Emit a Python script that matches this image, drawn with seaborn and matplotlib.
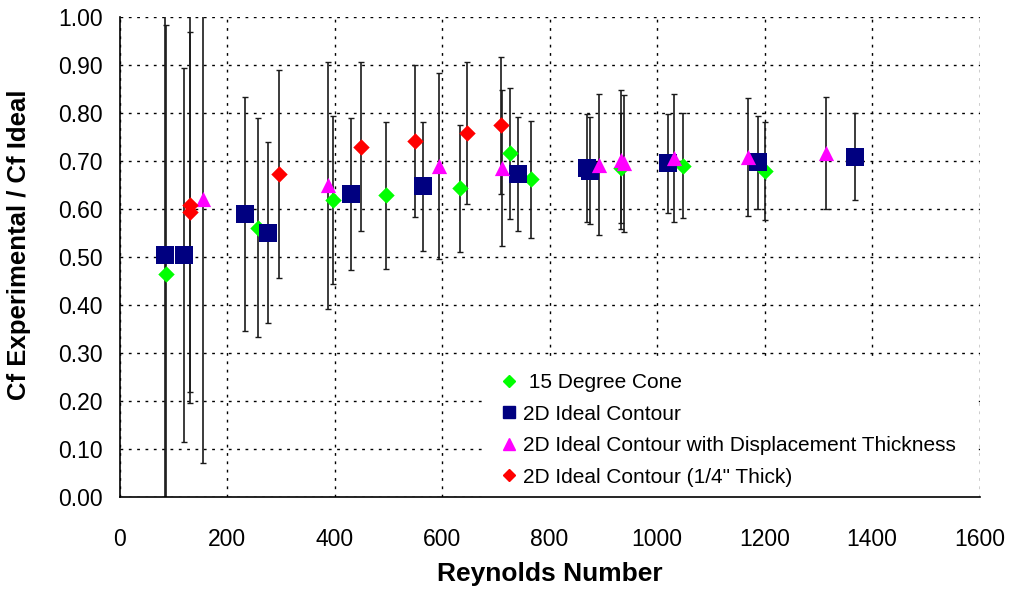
import numpy as np
import pandas as pd
import matplotlib
matplotlib.use("Agg")
import matplotlib.pyplot as plt
import seaborn as sns
from matplotlib.lines import Line2D
from matplotlib.patches import Rectangle

# ---- data ----
cone_x = [87, 257, 397, 496, 634, 726, 766, 933, 1048, 1201]
cone_y = [0.465, 0.561, 0.619, 0.629, 0.643, 0.716, 0.662, 0.685, 0.690, 0.679]
cone_err = [0.518, 0.228, 0.175, 0.153, 0.133, 0.136, 0.122, 0.115, 0.109, 0.102]

ideal_x = [84, 119, 233, 276, 430, 564, 742, 870, 876, 1021, 1188, 1369]
ideal_y = [0.504, 0.504, 0.590, 0.551, 0.631, 0.647, 0.673, 0.685, 0.680, 0.695, 0.697, 0.709]
ideal_err = [0.60, 0.39, 0.244, 0.189, 0.158, 0.135, 0.118, 0.113, 0.112, 0.103, 0.096, 0.091]

disp_x = [156, 388, 594, 712, 892, 932, 938, 1031, 1170, 1315]
disp_y = [0.621, 0.649, 0.690, 0.685, 0.692, 0.703, 0.695, 0.706, 0.709, 0.716]
disp_err = [0.55, 0.257, 0.194, 0.163, 0.147, 0.144, 0.142, 0.133, 0.123, 0.117]

thick_x = [130, 130, 296, 450, 550, 646, 710]
thick_y = [0.608, 0.594, 0.673, 0.730, 0.742, 0.758, 0.774]
thick_err = [0.413, 0.375, 0.217, 0.176, 0.158, 0.148, 0.143]

series_names = ["15 Degree Cone", "2D Ideal Contour",
                "2D Ideal Contour with Displacement Thickness",
                "2D Ideal Contour (1/4\" Thick)"]
x_ticks = [0, 200, 400, 600, 800, 1000, 1200, 1400, 1600]
y_ticks = [0.0, 0.1, 0.2, 0.3, 0.4, 0.5, 0.6, 0.7, 0.8, 0.9, 1.0]

series = [(cone_x, cone_y, cone_err), (ideal_x, ideal_y, ideal_err),
          (disp_x, disp_y, disp_err), (thick_x, thick_y, thick_err)]

rows = []
for name, (xs, ys, es) in zip(series_names, series):
    for x, y, e in zip(xs, ys, es):
        rows.append({"Re": x, "ratio": y, "err": e, "series": name})
df = pd.DataFrame(rows)

sns.set_style("white")
plt.rcParams["font.family"] = ["Liberation Sans", "DejaVu Sans"]
plt.rcParams["text.color"] = "black"
plt.rcParams["axes.labelcolor"] = "black"
plt.rcParams["xtick.color"] = "black"
plt.rcParams["ytick.color"] = "black"

fig = plt.figure(figsize=(10.14, 5.96), dpi=100)
ax = fig.add_axes([0.118, 0.166, 0.848, 0.8055])

# error bars
for name in series_names:
    sub = df[df["series"] == name]
    ax.errorbar(sub["Re"], sub["ratio"], yerr=sub["err"], fmt="none",
                ecolor="#1a1a1a", elinewidth=1.2, capsize=2.2, capthick=1.0,
                zorder=2)

palette = {series_names[0]: "#00FF00", series_names[1]: "#000080",
           series_names[2]: "#FF00FF", series_names[3]: "#FF0000"}
markers = {series_names[0]: "D", series_names[1]: "s",
           series_names[2]: "^", series_names[3]: "D"}
sizes = {series_names[0]: 70, series_names[1]: 160,
         series_names[2]: 120, series_names[3]: 70}

for name in series_names:
    sub = df[df["series"] == name]
    sns.scatterplot(data=sub, x="Re", y="ratio", color=palette[name],
                    marker=markers[name], s=sizes[name], linewidth=0,
                    ax=ax, zorder=3, label=name, legend=False)

ax.set_xlim(0, 1600)
ax.set_ylim(0, 1.0)
ax.set_xticks(x_ticks)
ax.set_yticks(y_ticks)
ax.set_yticklabels([f"{v:.2f}" for v in y_ticks])
ax.tick_params(axis="x", direction="out", length=8, width=1, labelsize=16.5,
               pad=14)
ax.tick_params(axis="y", direction="inout", length=8, width=1, labelsize=16.5,
               pad=8)

ax.grid(True, linestyle=(0, (2, 4)), color="black", linewidth=1.0)
ax.set_axisbelow(True)
for side in ["top", "right"]:
    ax.spines[side].set_visible(False)
for side in ["left", "bottom"]:
    ax.spines[side].set_color("black")
    ax.spines[side].set_linewidth(1.2)

ax.set_xlabel("Reynolds Number", fontsize=19, fontweight="bold", labelpad=8)
ax.set_ylabel("Cf Experimental / Cf Ideal", fontsize=18.5, fontweight="bold")
ax.yaxis.set_label_coords(-0.1035, 0.525)

# white legend background box (covers the grid like the original)
ax.add_patch(Rectangle((0.427, 0.0), 0.566, 0.294, transform=ax.transAxes,
                       facecolor="white", edgecolor="none", zorder=1.5))

handles = [Line2D([], [], linestyle="none", marker=markers[n], color=palette[n],
                  markersize={0: 6, 1: 9, 2: 8, 3: 6}[i])
           for i, n in enumerate(series_names)]
labels = [" " + series_names[0]] + series_names[1:]
leg = ax.legend(handles, labels, loc="upper left",
                bbox_to_anchor=(0.419, 0.297), frameon=False, fontsize=15,
                handletextpad=0.15, labelspacing=0.6, handlelength=1.0)

fig.savefig("out.png", dpi=100)
